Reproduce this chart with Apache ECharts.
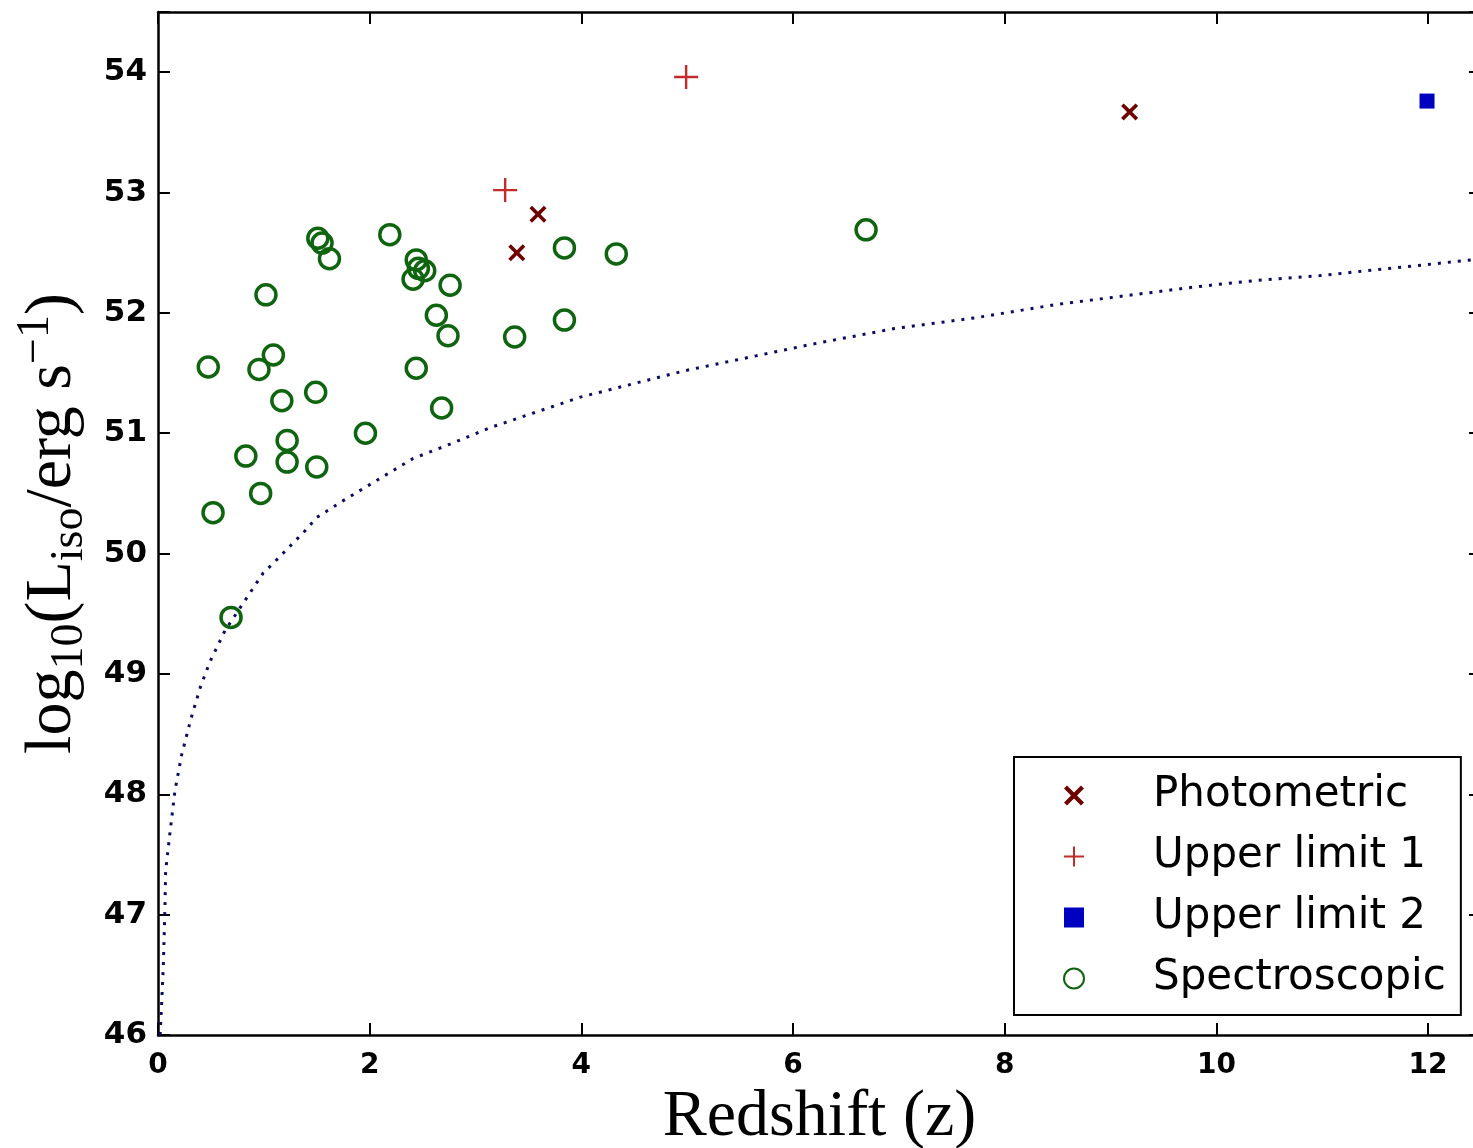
<!DOCTYPE html>
<html>
<head>
<meta charset="utf-8">
<title>Redshift vs isotropic luminosity</title>
<script src="https://cdn.jsdelivr.net/npm/echarts@6/dist/echarts.min.js"></script>
<style>
  html, body { margin: 0; padding: 0; background: #ffffff; }
  #chart { width: 1473px; height: 1148px; }
</style>
</head>
<body>
<div id="chart"></div>
<script>
// Burst samples: [redshift z, log10(L_iso / erg s^-1)]
const photometric = [[3.59, 52.82], [3.39, 52.50], [9.18, 53.67]];
const upperLimit1 = [[3.28, 53.02], [4.99, 53.96]];
const upperLimit2 = [[11.99, 53.76]];
const spectroscopic = [
  [0.475, 51.55], [1.02, 52.15], [1.09, 51.65], [0.954, 51.53],
  [1.51, 52.62], [1.55, 52.58], [1.62, 52.45], [2.19, 52.65],
  [2.44, 52.44], [2.41, 52.28], [2.52, 52.35], [2.46, 52.37],
  [2.76, 52.23], [2.63, 51.98], [2.74, 51.81], [2.44, 51.54],
  [1.17, 51.27], [1.49, 51.34], [2.68, 51.21], [1.96, 51.00],
  [1.22, 50.94], [1.22, 50.76], [0.83, 50.81], [1.50, 50.72],
  [0.97, 50.50], [0.52, 50.34], [3.37, 51.80], [3.84, 52.54],
  [4.33, 52.49], [3.84, 51.94], [6.69, 52.69], [0.69, 49.47]
];

// Detection threshold curve
const thresholdZ = [0.02, 0.035, 0.05, 0.066, 0.072, 0.113, 0.16, 0.224, 0.309, 0.40,
  0.49, 0.633, 0.995, 1.09, 1.39, 1.50, 1.75, 2.41, 2.76, 3.15, 3.99, 4.98,
  6.18, 6.96, 7.73, 8.49, 9.39, 9.84, 10.38, 10.98, 12.41, 12.5];
const thresholdL = [46.0, 46.27, 46.57, 47.07, 47.36, 47.68, 48.03, 48.33, 48.62, 48.89,
  49.10, 49.36, 49.84, 49.92, 50.19, 50.30, 50.44, 50.79, 50.91, 51.05, 51.30, 51.52,
  51.74, 51.87, 51.96, 52.07, 52.17, 52.22, 52.27, 52.31, 52.44, 52.45];

const xTickLabels = [0, 2, 4, 6, 8, 10, 12];
const yTickLabels = [46, 47, 48, 49, 50, 51, 52, 53, 54];

const thresholdCurve = thresholdZ.map((z, i) => [z, thresholdL[i]]);

const PLUS = 'path://M9,0H11V9H20V11H11V20H9V11H0V9H9Z';
const CROSS = 'path://M0,3L3,0L10,7L17,0L20,3L13,10L20,17L17,20L10,13L3,20L0,17L7,10Z';

const tickFont = { fontFamily: 'DejaVu Sans', fontWeight: 'bold', color: '#000' };
const axisLine = { show: true, onZero: false, lineStyle: { color: '#000', width: 2.5 } };
const axisTick = { show: true, inside: true, length: 12, lineStyle: { color: '#000', width: 2 } };

const chart = echarts.init(document.getElementById('chart'), null, { renderer: 'canvas' });

chart.setOption({
  backgroundColor: '#ffffff',
  animation: false,
  grid: { left: 158, width: 1323, top: 12, bottom: 113, containLabel: false, outerBoundsMode: 'none' },
  xAxis: [
    {
      type: 'value', position: 'bottom', min: 0, max: 12.5, interval: 2,
      axisLine, axisTick, splitLine: { show: false },
      axisLabel: {
        ...tickFont, fontSize: 28, margin: 17,
        formatter: v => xTickLabels.includes(v) ? String(v) : ''
      },
      name: 'Redshift (z)', nameLocation: 'middle', nameGap: 46,
      nameTextStyle: { fontFamily: 'Liberation Serif', fontSize: 66, color: '#000' }
    },
    {
      type: 'value', position: 'top', min: 0, max: 12.5, interval: 2,
      axisLine, axisTick, splitLine: { show: false }, axisLabel: { show: false }
    }
  ],
  yAxis: [
    {
      type: 'value', position: 'left', min: 46, max: 54.5, interval: 1,
      axisLine, axisTick, splitLine: { show: false },
      axisLabel: {
        ...tickFont, fontSize: 31, margin: 11,
        formatter: v => yTickLabels.includes(v) ? String(v) : ''
      },
      name: '{a|log}{s|10}{a|(L}{s|iso}{a|/erg s}{p|\u22121}{a|)}',
      nameLocation: 'middle', nameRotate: 90, nameGap: 50,
      nameTextStyle: {
        fontFamily: 'Liberation Serif', fontSize: 66, color: '#000',
        rich: {
          a: { fontFamily: 'Liberation Serif', fontSize: 66, lineHeight: 80, color: '#000' },
          s: { fontFamily: 'Liberation Serif', fontSize: 46, lineHeight: 46, verticalAlign: 'bottom', color: '#000' },
          p: { fontFamily: 'Liberation Serif', fontSize: 46, lineHeight: 46, verticalAlign: 'top', color: '#000' }
        }
      }
    },
    {
      type: 'value', position: 'right', min: 46, max: 54.5, interval: 1,
      axisLine, axisTick, splitLine: { show: false }, axisLabel: { show: false }
    }
  ],
  legend: {
    orient: 'vertical', left: 1014, top: 757,
    padding: [16, 15, 14, 49], itemGap: 16,
    itemWidth: 20, itemHeight: 20,
    backgroundColor: '#fff', borderColor: '#000', borderWidth: 2, borderRadius: 0,
    textStyle: { fontFamily: 'DejaVu Sans', fontSize: 42, lineHeight: 45, color: '#000', padding: [0, 0, 0, 64] },
    data: ['Photometric', 'Upper limit 1', 'Upper limit 2', 'Spectroscopic']
  },
  series: [
    {
      name: 'Threshold', type: 'line', data: thresholdCurve, showSymbol: false, symbol: 'none',
      smooth: false, z: 1, silent: true,
      lineStyle: { color: '#0b0b66', width: 3, type: [3, 7] }
    },
    {
      name: 'Spectroscopic', type: 'scatter', data: spectroscopic, z: 3,
      symbol: 'circle', symbolSize: 20,
      itemStyle: { color: 'rgba(0,0,0,0)', borderColor: '#0f650f', borderWidth: 3.5, opacity: 1 }
    },
    {
      name: 'Photometric', type: 'scatter', data: photometric, z: 4,
      symbol: CROSS, symbolSize: 17,
      itemStyle: { color: '#6e0000', opacity: 1 }
    },
    {
      name: 'Upper limit 1', type: 'scatter', data: upperLimit1, z: 4,
      symbol: PLUS, symbolSize: 24,
      itemStyle: { color: '#c42a2a', opacity: 1 }
    },
    {
      name: 'Upper limit 2', type: 'scatter', data: upperLimit2, z: 4,
      symbol: 'rect', symbolSize: 15,
      itemStyle: { color: '#0000c0', opacity: 1 }
    }
  ]
});
</script>
</body>
</html>
